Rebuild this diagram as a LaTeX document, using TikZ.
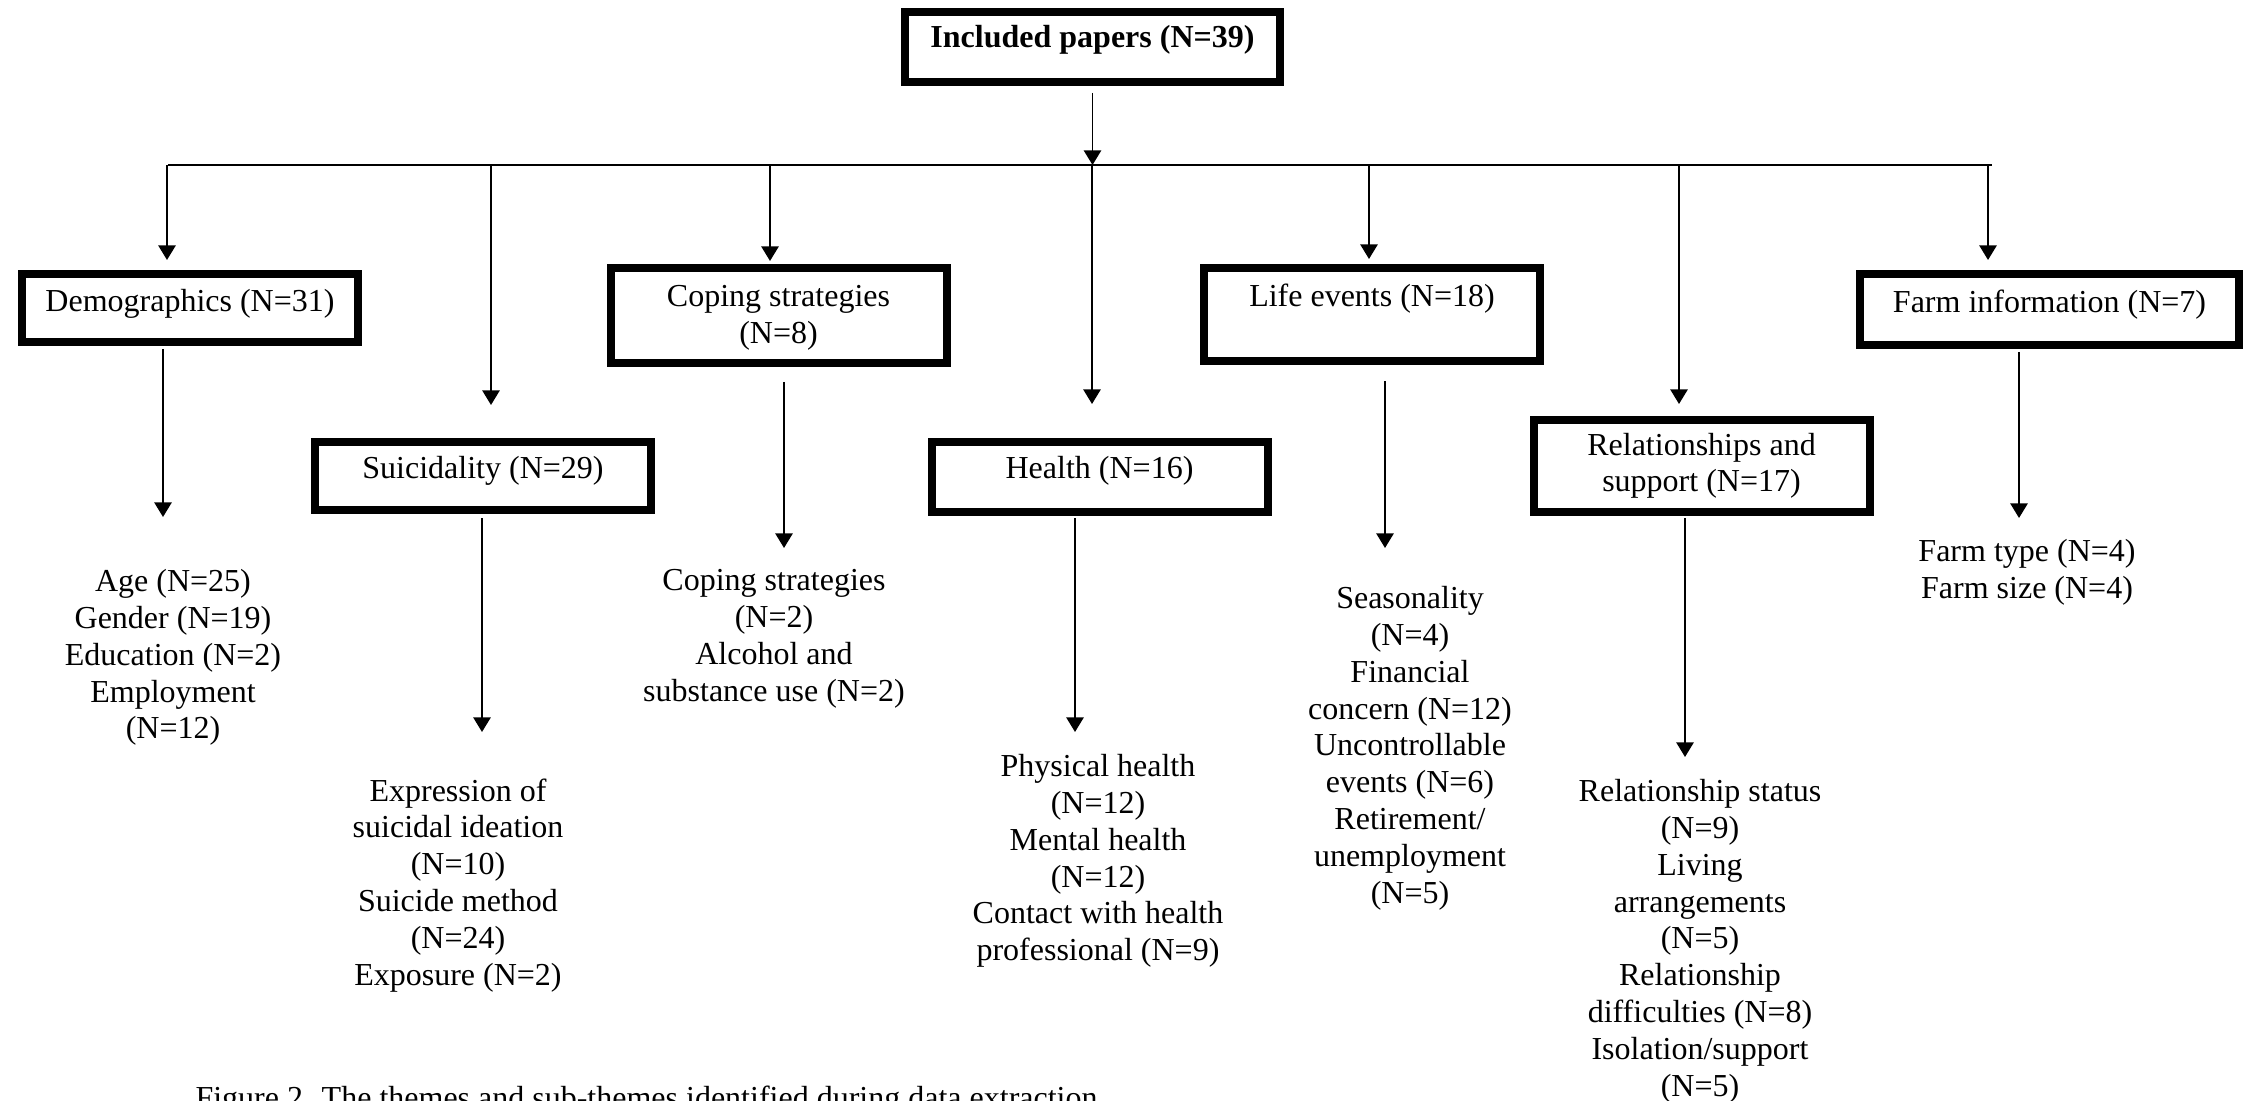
\documentclass[tikz,border=0pt]{standalone}
\usepackage{fontspec}
\setmainfont{Liberation Serif}
\usetikzlibrary{arrows.meta}

\begin{document}
\begin{tikzpicture}[x=0.375pt, y=-0.375pt, auto,
    every node/.style={font=\fontsize{12}{13.8}\selectfont, inner sep=0pt},
    theme node/.style={draw, rectangle, line width=3pt, align=center, minimum width=126pt, text height=8.5pt},
    sub node/.style={align=center, anchor=north},
    link/.style={line width=0.7pt, -{Triangle[length=5.5pt,width=6.5pt]}}]

  \useasboundingbox (0,0) rectangle (2246,1101);

  \node[theme node, minimum width=140.6pt, minimum height=26.25pt, text depth=7.8pt,
        font=\fontsize{12}{13.8}\selectfont\bfseries] (papers) at (1092.5,47) {Included papers (N=39)};
  \node[theme node, minimum height=25.5pt, text depth=5.5pt] (demo) at (190,308) {Demographics (N=31)};
  \node[theme node, minimum height=25.5pt, text depth=6.25pt] (suic) at (483,476) {Suicidality (N=29)};
  \node[theme node, minimum height=35.6pt, text height=22.3pt, text depth=1.1pt] (coping) at (778.5,315.5) {Coping strategies\\(N=8)};
  \node[theme node, minimum height=26.25pt, text depth=7pt] (health) at (1099.5,477) {Health (N=16)};
  \node[theme node, minimum height=34.9pt, text depth=14.2pt] (life) at (1372,314.5) {Life events (N=18)};
  \node[theme node, minimum height=34.5pt, text height=22.3pt, text depth=2.95pt] (rel) at (1701.5,466) {Relationships and\\support (N=17)};
  \node[theme node, minimum width=142.1pt, minimum height=26.6pt, text depth=6.6pt] (farm) at (2049.5,309.5) {Farm information (N=7)};

  \node[sub node] (demo list) at (173,569) {Age (N=25)\\Gender (N=19)\\Education (N=2)\\Employment\\(N=12)};
  \node[sub node] (suic list) at (458,778) {Expression of\\suicidal ideation\\(N=10)\\Suicide method\\(N=24)\\Exposure (N=2)};
  \node[sub node] (coping list) at (774,569) {Coping strategies\\(N=2)\\Alcohol and\\substance use (N=2)};
  \node[sub node] (health list) at (1098,754) {Physical health\\(N=12)\\Mental health\\(N=12)\\Contact with health\\professional (N=9)};
  \node[sub node] (life list) at (1410,586) {Seasonality\\(N=4)\\Financial\\concern (N=12)\\Uncontrollable\\events (N=6)\\Retirement/\\unemployment\\(N=5)};
  \node[sub node] (rel list) at (1700,779) {Relationship status\\(N=9)\\Living\\arrangements\\(N=5)\\Relationship\\difficulties (N=8)\\Isolation/support\\(N=5)};
  \node[sub node] (farm list) at (2027,539) {Farm type (N=4)\\Farm size (N=4)};

  \node[anchor=base west] (caption) at (195,1108) {Figure 2. The themes and sub-themes identified during data extraction};

  \coordinate (bus west) at (168,165);
  \coordinate (bus east) at (1992,165);
  \coordinate (demo in) at (167,260);
  \coordinate (suic in) at (491,405);
  \coordinate (coping in) at (770,261);
  \coordinate (health in) at (1092,404);
  \coordinate (life in) at (1369,259);
  \coordinate (rel in) at (1679,404);
  \coordinate (farm in) at (1988,260);
  \coordinate (demo out) at (163,517);
  \coordinate (suic out) at (482,732);
  \coordinate (coping out) at (784,548);
  \coordinate (health out) at (1075,732);
  \coordinate (life out) at (1385,548);
  \coordinate (rel out) at (1685,757);
  \coordinate (farm out) at (2019,518);

  \draw[line width=0.7pt] (bus west) -- (bus east);

  \path[link]
  (papers.south) edge[shorten <=2.6pt] (papers.south |- bus west)
  (demo in |- bus west) edge (demo in)
  (suic in |- bus west) edge (suic in)
  (coping in |- bus west) edge (coping in)
  (health in |- bus west) edge (health in)
  (life in |- bus west) edge (life in)
  (rel in |- bus west) edge (rel in)
  (farm in |- bus west) edge (farm in)
  (demo.south -| demo out) edge[shorten <=1.1pt] (demo out)
  (suic.south -| suic out) edge[shorten <=1.5pt] (suic out)
  (coping.south -| coping out) edge[shorten <=5.6pt] (coping out)
  (health.south -| health out) edge[shorten <=0.75pt] (health out)
  (life.south -| life out) edge[shorten <=6pt] (life out)
  (rel.south -| rel out) edge[shorten <=0.75pt] (rel out)
  (farm.south -| farm out) edge[shorten <=1.1pt] (farm out)
  ;
\end{tikzpicture}
\end{document}
